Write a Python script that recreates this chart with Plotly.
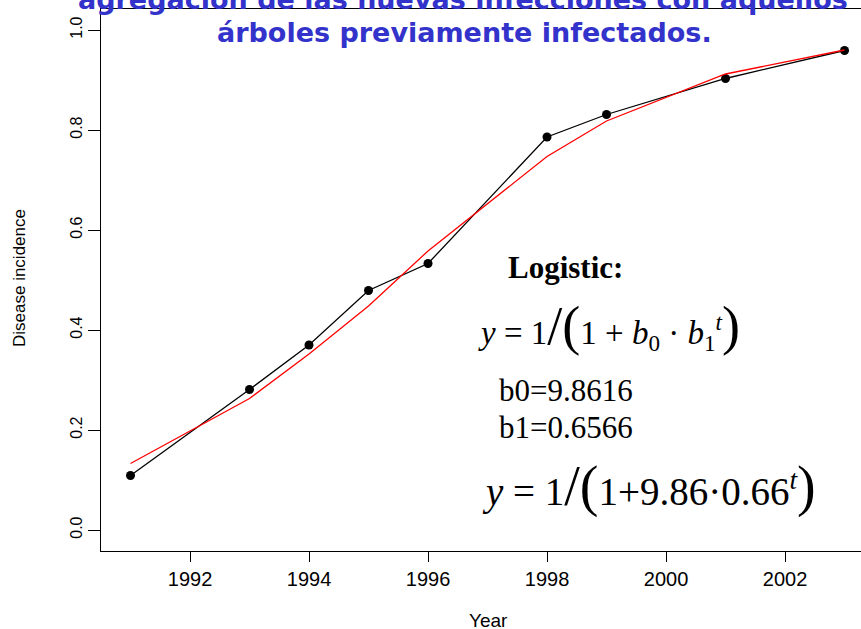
import plotly.graph_objects as go

years = [1991, 1993, 1994, 1995, 1996, 1998, 1999, 2001, 2003]
incidence = [0.109, 0.281, 0.370, 0.479, 0.533, 0.786, 0.831, 0.903, 0.959]
fitted = [0.133, 0.263, 0.352, 0.448, 0.558, 0.747, 0.818, 0.912, 0.960]

y_ticks = [0.0, 0.2, 0.4, 0.6, 0.8, 1.0]
x_ticks = [1992, 1994, 1996, 1998, 2000, 2002]

title_lines = [
    "agregación de las nuevas infecciones con aquellos",
    "árboles previamente infectados.",
]

W, H = 861, 629
L, T, B = 101, 9, 78


def px(x):
    return (x - L) / (W - L)


def py(y):
    return (H - B - y) / (H - B - T)


SANS = "Liberation Sans, Arial, sans-serif"
SERIF = "Liberation Serif, Times New Roman, serif"

fig = go.Figure()

fig.add_trace(go.Scatter(
    x=years, y=incidence, mode="lines+markers",
    line=dict(color="black", width=1.3),
    marker=dict(color="black", size=9),
    showlegend=False,
))
fig.add_trace(go.Scatter(
    x=years, y=fitted, mode="lines",
    line=dict(color="#ff0000", width=1.3),
    showlegend=False,
))

annotations = [
    dict(x=px(463), y=py(-1), text=title_lines[0],
         font=dict(family="DejaVu Sans", size=27, color="#3333cc", weight="bold")),
    dict(x=px(464), y=py(33), text=title_lines[1],
         font=dict(family="DejaVu Sans", size=27, color="#3333cc", weight="bold")),
    dict(x=px(19), y=py(278), text="Disease incidence", textangle=-90,
         font=dict(family=SANS, size=17, color="black")),
    dict(x=px(488), y=py(620), text="Year",
         font=dict(family=SANS, size=19, color="black")),
    dict(x=px(565), y=py(267), text="<b>Logistic:</b>",
         font=dict(family=SERIF, size=31, color="black")),
    dict(x=px(476), y=py(326), xanchor="left",
         text=("<i>y</i> = 1<span style='font-size:54px'>/(</span>1 + <i>b</i><sub>0</sub>"
               " · <i>b</i><sub>1</sub><sup><i>t</i></sup><span style='font-size:54px'>)</span>"),
         font=dict(family=SERIF, size=33, color="black")),
    dict(x=px(497), y=py(390), xanchor="left", text="b0=9.8616",
         font=dict(family=SERIF, size=31, color="black")),
    dict(x=px(497), y=py(427), xanchor="left", text="b1=0.6566",
         font=dict(family=SERIF, size=31, color="black")),
    dict(x=px(480), y=py(486), xanchor="left",
         text=("<i>y</i> = 1<span style='font-size:56px'>/(</span>1+9.86·0.66"
               "<sup><i>t</i></sup><span style='font-size:56px'>)</span>"),
         font=dict(family=SERIF, size=39, color="black")),
]
for a in annotations:
    a.setdefault("xanchor", "center")
    a.update(xref="paper", yref="paper", yanchor="middle", showarrow=False)

fig.update_layout(
    width=W, height=H,
    margin=dict(l=L, r=0, t=T, b=B),
    plot_bgcolor="white", paper_bgcolor="white",
    annotations=annotations,
    font=dict(family=SANS, color="black"),
)
fig.update_xaxes(
    range=[1990.504, 2003.277], tickvals=x_ticks,
    showgrid=False, zeroline=False,
    showline=True, linecolor="black", linewidth=1, mirror=True,
    ticks="outside", ticklen=10, tickcolor="black",
    tickfont=dict(family=SANS, size=20, color="black"),
)
fig.update_yaxes(
    range=[-0.042, 1.042], tickvals=y_ticks, tickformat=".1f",
    showgrid=False, zeroline=False,
    showline=True, linecolor="black", linewidth=1,
    ticks="outside", ticklen=12, tickcolor="black", tickangle=-90,
    tickfont=dict(family=SANS, size=16, color="black"),
)

fig.write_html("out.html", config={"displayModeBar": False},
               post_script="document.body.style.margin='0';")
